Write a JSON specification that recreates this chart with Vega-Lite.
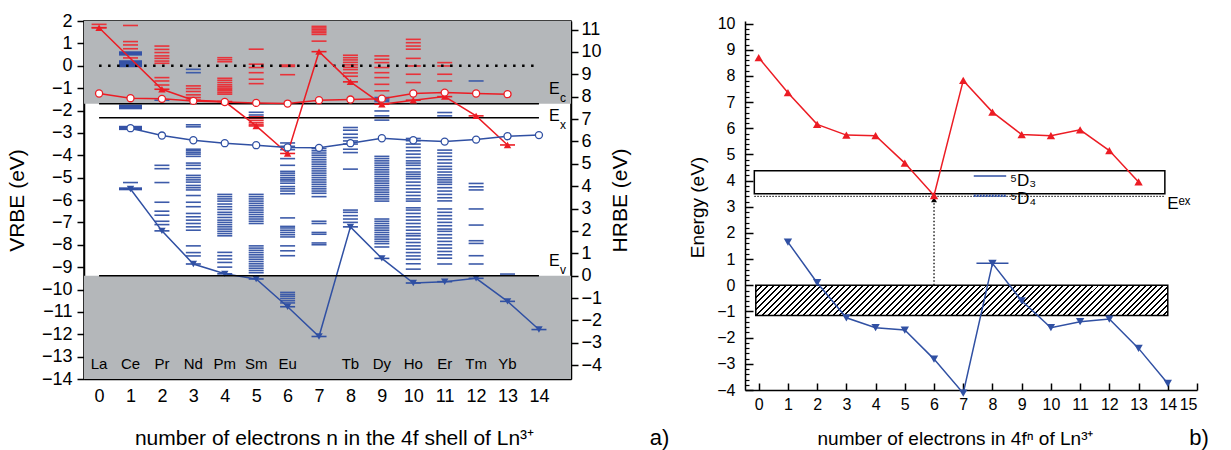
{
"$schema": "https://vega.github.io/schema/vega-lite/v6.json",
"padding": {"left": 5, "top": 11, "right": 0, "bottom": 0},
"spacing": 174,
"bounds": "flush",
"config": {"font": "Liberation Sans", "axis": {"grid": false, "labelOverlap": false, "domainColor": "#000", "tickColor": "#000", "labelColor": "#000", "titleColor": "#000", "titleFontWeight": "normal", "domainWidth": 1.5, "tickWidth": 1.5, "labelFont": "Liberation Sans", "titleFont": "Liberation Sans"}},
"datasets": {
"lv": [
{"n":0,"e":1.85,"c":"r"},{"n":0,"e":1.7,"c":"r"},
{"n":1,"e":1.8,"c":"r"},{"n":1,"e":1.08,"c":"r"},{"n":1,"e":0.93,"c":"r"},{"n":1,"e":0.76,"c":"r"},{"n":1,"e":0.35,"c":"r"},
{"n":1,"e":0.58,"c":"b","k":"d"},{"n":1,"e":0.52,"c":"b","k":"d"},{"n":1,"e":0.18,"c":"b","k":"d"},{"n":1,"e":0.12,"c":"b","k":"d"},{"n":1,"e":0.06,"c":"b","k":"d"},{"n":1,"e":0.0,"c":"b","k":"d"},{"n":1,"e":-1.8,"c":"b","k":"d"},{"n":1,"e":-1.88,"c":"b","k":"d"},{"n":1,"e":-2.75,"c":"b","k":"d"},{"n":1,"e":-2.81,"c":"b","k":"d"},
{"n":1,"e":-5.22,"c":"b"},{"n":1,"e":-5.5,"c":"b","k":"d"},
{"n":2,"e":0.88,"c":"r"},{"n":2,"e":0.73,"c":"r"},{"n":2,"e":0.59,"c":"r"},{"n":2,"e":0.44,"c":"r"},{"n":2,"e":0.33,"c":"r"},{"n":2,"e":0.21,"c":"r"},{"n":2,"e":0.11,"c":"r"},{"n":2,"e":-0.53,"c":"r"},{"n":2,"e":-0.68,"c":"r"},{"n":2,"e":-0.86,"c":"r"},
{"n":2,"e":-1.54,"c":"b"},{"n":2,"e":-4.45,"c":"b"},{"n":2,"e":-4.6,"c":"b"},{"n":2,"e":-5.22,"c":"b"},{"n":2,"e":-6.1,"c":"b"},{"n":2,"e":-6.5,"c":"b"},{"n":2,"e":-6.68,"c":"b"},{"n":2,"e":-6.95,"c":"b"},{"n":2,"e":-7.1,"c":"b"},
{"n":3,"e":-0.16,"c":"b"},{"n":3,"e":-0.31,"c":"b"},
{"n":3,"e":-0.9,"c":"r"},{"n":3,"e":-1.02,"c":"r"},{"n":3,"e":-1.15,"c":"r"},{"n":3,"e":-1.3,"c":"r"},{"n":3,"e":-1.42,"c":"r"},
{"n":3,"e":-2.64,"c":"b"},{"n":3,"e":-2.73,"c":"b"},{"n":3,"e":-3.73,"c":"b"},{"n":3,"e":-3.8,"c":"b"},{"n":3,"e":-3.88,"c":"b"},{"n":3,"e":-3.95,"c":"b"},{"n":3,"e":-4.05,"c":"b"},{"n":3,"e":-4.35,"c":"b"},{"n":3,"e":-4.45,"c":"b"},{"n":3,"e":-4.6,"c":"b"},{"n":3,"e":-4.9,"c":"b"},{"n":3,"e":-5.0,"c":"b"},{"n":3,"e":-5.1,"c":"b"},{"n":3,"e":-5.2,"c":"b"},{"n":3,"e":-5.35,"c":"b"},{"n":3,"e":-5.45,"c":"b"},{"n":3,"e":-5.55,"c":"b"},{"n":3,"e":-5.8,"c":"b"},{"n":3,"e":-6.1,"c":"b"},{"n":3,"e":-6.3,"c":"b"},{"n":3,"e":-6.6,"c":"b"},{"n":3,"e":-6.75,"c":"b"},{"n":3,"e":-6.9,"c":"b"},{"n":3,"e":-7.05,"c":"b"},{"n":3,"e":-7.2,"c":"b"},{"n":3,"e":-7.35,"c":"b"},{"n":3,"e":-8.05,"c":"b"},{"n":3,"e":-8.35,"c":"b"},{"n":3,"e":-8.5,"c":"b"},
{"n":4,"e":0.36,"c":"r"},{"n":4,"e":0.27,"c":"r"},{"n":4,"e":0.18,"c":"r"},{"n":4,"e":-0.56,"c":"r"},{"n":4,"e":-0.65,"c":"r"},{"n":4,"e":-0.75,"c":"r"},{"n":4,"e":-0.85,"c":"r"},{"n":4,"e":-0.93,"c":"r"},{"n":4,"e":-1.0,"c":"r"},{"n":4,"e":-1.06,"c":"r"},{"n":4,"e":-1.12,"c":"r"},{"n":4,"e":-1.2,"c":"r"},{"n":4,"e":-1.27,"c":"r"},
{"n":4,"e":-5.75,"c":"b"},{"n":4,"e":-5.85,"c":"b"},{"n":4,"e":-5.95,"c":"b"},{"n":4,"e":-6.05,"c":"b"},{"n":4,"e":-6.18,"c":"b"},{"n":4,"e":-6.3,"c":"b"},{"n":4,"e":-6.42,"c":"b"},{"n":4,"e":-6.55,"c":"b"},{"n":4,"e":-6.65,"c":"b"},{"n":4,"e":-6.78,"c":"b"},{"n":4,"e":-6.9,"c":"b"},{"n":4,"e":-7.0,"c":"b"},{"n":4,"e":-7.1,"c":"b"},{"n":4,"e":-7.2,"c":"b"},{"n":4,"e":-7.3,"c":"b"},{"n":4,"e":-7.4,"c":"b"},{"n":4,"e":-7.5,"c":"b"},{"n":4,"e":-7.6,"c":"b"},{"n":4,"e":-8.34,"c":"b"},{"n":4,"e":-8.49,"c":"b"},{"n":4,"e":-8.64,"c":"b"},{"n":4,"e":-8.79,"c":"b"},{"n":4,"e":-9.0,"c":"b"},
{"n":5,"e":0.74,"c":"r"},{"n":5,"e":0.07,"c":"r"},{"n":5,"e":-0.08,"c":"r"},{"n":5,"e":-0.31,"c":"r"},{"n":5,"e":-0.6,"c":"r"},{"n":5,"e":-0.8,"c":"r"},{"n":5,"e":-2.28,"c":"r"},{"n":5,"e":-2.36,"c":"r"},{"n":5,"e":-2.45,"c":"r"},{"n":5,"e":-2.55,"c":"r"},{"n":5,"e":-2.63,"c":"r"},
{"n":5,"e":-2.08,"c":"b"},{"n":5,"e":-2.2,"c":"b"},{"n":5,"e":-5.75,"c":"b"},{"n":5,"e":-5.85,"c":"b"},{"n":5,"e":-5.95,"c":"b"},{"n":5,"e":-6.05,"c":"b"},{"n":5,"e":-6.15,"c":"b"},{"n":5,"e":-6.25,"c":"b"},{"n":5,"e":-6.35,"c":"b"},{"n":5,"e":-6.45,"c":"b"},{"n":5,"e":-6.55,"c":"b"},{"n":5,"e":-6.65,"c":"b"},{"n":5,"e":-6.75,"c":"b"},{"n":5,"e":-6.85,"c":"b"},{"n":5,"e":-6.95,"c":"b"},{"n":5,"e":-7.05,"c":"b"},{"n":5,"e":-8.05,"c":"b"},{"n":5,"e":-8.15,"c":"b"},{"n":5,"e":-8.25,"c":"b"},{"n":5,"e":-8.35,"c":"b"},{"n":5,"e":-8.45,"c":"b"},{"n":5,"e":-8.55,"c":"b"},{"n":5,"e":-8.65,"c":"b"},{"n":5,"e":-8.75,"c":"b"},{"n":5,"e":-8.85,"c":"b"},{"n":5,"e":-8.95,"c":"b"},{"n":5,"e":-9.05,"c":"b"},{"n":5,"e":-9.15,"c":"b"},{"n":5,"e":-9.25,"c":"b"},
{"n":6,"e":0.03,"c":"r"},{"n":6,"e":-0.03,"c":"r"},{"n":6,"e":-0.4,"c":"r"},
{"n":6,"e":-3.45,"c":"b"},{"n":6,"e":-3.6,"c":"b"},{"n":6,"e":-3.75,"c":"b"},{"n":6,"e":-4.15,"c":"b"},{"n":6,"e":-4.45,"c":"b"},{"n":6,"e":-4.72,"c":"b"},{"n":6,"e":-4.8,"c":"b"},{"n":6,"e":-4.9,"c":"b"},{"n":6,"e":-5.0,"c":"b"},{"n":6,"e":-5.08,"c":"b"},{"n":6,"e":-5.15,"c":"b"},{"n":6,"e":-5.25,"c":"b"},{"n":6,"e":-5.4,"c":"b"},{"n":6,"e":-5.5,"c":"b"},{"n":6,"e":-5.6,"c":"b"},{"n":6,"e":-5.72,"c":"b"},{"n":6,"e":-6.8,"c":"b"},{"n":6,"e":-7.18,"c":"b"},{"n":6,"e":-7.25,"c":"b"},{"n":6,"e":-7.35,"c":"b"},{"n":6,"e":-7.45,"c":"b"},{"n":6,"e":-7.55,"c":"b"},{"n":6,"e":-7.65,"c":"b"},{"n":6,"e":-8.05,"c":"b"},{"n":6,"e":-8.27,"c":"b"},{"n":6,"e":-8.49,"c":"b"},{"n":6,"e":-10.13,"c":"b"},{"n":6,"e":-10.22,"c":"b"},{"n":6,"e":-10.3,"c":"b"},{"n":6,"e":-10.4,"c":"b"},{"n":6,"e":-10.5,"c":"b"},{"n":6,"e":-10.6,"c":"b"},
{"n":7,"e":1.76,"c":"r"},{"n":7,"e":1.69,"c":"r"},{"n":7,"e":1.62,"c":"r"},{"n":7,"e":1.55,"c":"r"},{"n":7,"e":1.48,"c":"r"},{"n":7,"e":1.4,"c":"r"},{"n":7,"e":1.1,"c":"r"},
{"n":7,"e":-3.7,"c":"b"},{"n":7,"e":-3.8,"c":"b"},{"n":7,"e":-3.9,"c":"b"},{"n":7,"e":-4.0,"c":"b"},{"n":7,"e":-4.1,"c":"b"},{"n":7,"e":-4.2,"c":"b"},{"n":7,"e":-4.3,"c":"b"},{"n":7,"e":-4.4,"c":"b"},{"n":7,"e":-4.5,"c":"b"},{"n":7,"e":-4.6,"c":"b"},{"n":7,"e":-4.7,"c":"b"},{"n":7,"e":-4.8,"c":"b"},{"n":7,"e":-4.9,"c":"b"},{"n":7,"e":-5.0,"c":"b"},{"n":7,"e":-5.1,"c":"b"},{"n":7,"e":-5.2,"c":"b"},{"n":7,"e":-5.3,"c":"b"},{"n":7,"e":-5.4,"c":"b"},{"n":7,"e":-5.5,"c":"b"},{"n":7,"e":-5.6,"c":"b"},{"n":7,"e":-5.7,"c":"b"},{"n":7,"e":-5.85,"c":"b"},{"n":7,"e":-6.95,"c":"b"},{"n":7,"e":-7.05,"c":"b"},{"n":7,"e":-7.45,"c":"b"},{"n":7,"e":-7.53,"c":"b"},{"n":7,"e":-7.92,"c":"b"},{"n":7,"e":-8.0,"c":"b"},
{"n":8,"e":0.47,"c":"r"},{"n":8,"e":0.36,"c":"r"},{"n":8,"e":0.26,"c":"r"},{"n":8,"e":0.15,"c":"r"},{"n":8,"e":0.04,"c":"r"},{"n":8,"e":-0.07,"c":"r"},{"n":8,"e":-0.17,"c":"r"},{"n":8,"e":-0.32,"c":"r"},{"n":8,"e":-0.47,"c":"r"},
{"n":8,"e":-2.76,"c":"b"},{"n":8,"e":-2.88,"c":"b"},{"n":8,"e":-3.06,"c":"b"},{"n":8,"e":-3.21,"c":"b"},{"n":8,"e":-3.36,"c":"b"},{"n":8,"e":-3.5,"c":"b"},{"n":8,"e":-3.73,"c":"b"},{"n":8,"e":-3.88,"c":"b"},{"n":8,"e":-4.62,"c":"b"},{"n":8,"e":-6.45,"c":"b"},{"n":8,"e":-6.55,"c":"b"},{"n":8,"e":-6.7,"c":"b"},{"n":8,"e":-6.85,"c":"b"},{"n":8,"e":-7.0,"c":"b"},
{"n":9,"e":0.44,"c":"r"},{"n":9,"e":0.29,"c":"r"},{"n":9,"e":0.14,"c":"r"},{"n":9,"e":-0.08,"c":"r"},{"n":9,"e":-0.31,"c":"r"},{"n":9,"e":-0.53,"c":"r"},{"n":9,"e":-0.83,"c":"r"},{"n":9,"e":-1.12,"c":"r"},
{"n":9,"e":-1.42,"c":"b"},{"n":9,"e":-1.48,"c":"b"},{"n":9,"e":-1.54,"c":"b"},{"n":9,"e":-1.6,"c":"b"},{"n":9,"e":-2.02,"c":"b"},{"n":9,"e":-2.24,"c":"b"},{"n":9,"e":-2.43,"c":"b"},{"n":9,"e":-4.05,"c":"b"},{"n":9,"e":-4.15,"c":"b"},{"n":9,"e":-4.25,"c":"b"},{"n":9,"e":-4.35,"c":"b"},{"n":9,"e":-4.45,"c":"b"},{"n":9,"e":-4.55,"c":"b"},{"n":9,"e":-4.65,"c":"b"},{"n":9,"e":-4.75,"c":"b"},{"n":9,"e":-4.85,"c":"b"},{"n":9,"e":-4.95,"c":"b"},{"n":9,"e":-5.05,"c":"b"},{"n":9,"e":-5.15,"c":"b"},{"n":9,"e":-5.25,"c":"b"},{"n":9,"e":-5.35,"c":"b"},{"n":9,"e":-5.45,"c":"b"},{"n":9,"e":-5.55,"c":"b"},{"n":9,"e":-5.65,"c":"b"},{"n":9,"e":-5.75,"c":"b"},{"n":9,"e":-5.85,"c":"b"},{"n":9,"e":-5.95,"c":"b"},{"n":9,"e":-6.05,"c":"b"},{"n":9,"e":-6.85,"c":"b"},{"n":9,"e":-6.95,"c":"b"},{"n":9,"e":-7.05,"c":"b"},{"n":9,"e":-7.15,"c":"b"},{"n":9,"e":-7.25,"c":"b"},{"n":9,"e":-7.35,"c":"b"},{"n":9,"e":-7.45,"c":"b"},{"n":9,"e":-7.55,"c":"b"},{"n":9,"e":-7.65,"c":"b"},{"n":9,"e":-7.75,"c":"b"},{"n":9,"e":-7.85,"c":"b"},{"n":9,"e":-7.95,"c":"b"},{"n":9,"e":-8.1,"c":"b"},
{"n":10,"e":1.18,"c":"r"},{"n":10,"e":1.03,"c":"r"},{"n":10,"e":0.88,"c":"r"},{"n":10,"e":0.74,"c":"r"},{"n":10,"e":0.33,"c":"r"},{"n":10,"e":-0.01,"c":"r"},{"n":10,"e":-0.38,"c":"r"},{"n":10,"e":-0.75,"c":"r"},
{"n":10,"e":-3.25,"c":"b"},{"n":10,"e":-3.35,"c":"b"},{"n":10,"e":-3.5,"c":"b"},{"n":10,"e":-3.65,"c":"b"},{"n":10,"e":-3.8,"c":"b"},{"n":10,"e":-3.95,"c":"b"},{"n":10,"e":-4.1,"c":"b"},{"n":10,"e":-4.25,"c":"b"},{"n":10,"e":-4.35,"c":"b"},{"n":10,"e":-4.45,"c":"b"},{"n":10,"e":-4.6,"c":"b"},{"n":10,"e":-4.75,"c":"b"},{"n":10,"e":-4.85,"c":"b"},{"n":10,"e":-4.95,"c":"b"},{"n":10,"e":-5.05,"c":"b"},{"n":10,"e":-5.2,"c":"b"},{"n":10,"e":-5.35,"c":"b"},{"n":10,"e":-5.5,"c":"b"},{"n":10,"e":-5.65,"c":"b"},{"n":10,"e":-5.8,"c":"b"},{"n":10,"e":-5.95,"c":"b"},{"n":10,"e":-6.05,"c":"b"},{"n":10,"e":-6.35,"c":"b"},{"n":10,"e":-6.45,"c":"b"},{"n":10,"e":-6.6,"c":"b"},{"n":10,"e":-6.75,"c":"b"},{"n":10,"e":-6.9,"c":"b"},{"n":10,"e":-7.05,"c":"b"},{"n":10,"e":-7.2,"c":"b"},{"n":10,"e":-7.35,"c":"b"},{"n":10,"e":-7.5,"c":"b"},{"n":10,"e":-7.6,"c":"b"},{"n":10,"e":-7.75,"c":"b"},{"n":10,"e":-7.9,"c":"b"},{"n":10,"e":-8.05,"c":"b"},{"n":10,"e":-8.2,"c":"b"},{"n":10,"e":-8.35,"c":"b"},{"n":10,"e":-8.5,"c":"b"},{"n":10,"e":-8.65,"c":"b"},{"n":10,"e":-8.85,"c":"b"},{"n":10,"e":-9.09,"c":"b"},
{"n":11,"e":0.14,"c":"r"},{"n":11,"e":-0.01,"c":"r"},{"n":11,"e":-0.38,"c":"r"},{"n":11,"e":-0.68,"c":"r"},
{"n":11,"e":-2.09,"c":"b"},{"n":11,"e":-2.24,"c":"b"},{"n":11,"e":-3.77,"c":"b"},{"n":11,"e":-3.9,"c":"b"},{"n":11,"e":-4.05,"c":"b"},{"n":11,"e":-4.2,"c":"b"},{"n":11,"e":-4.35,"c":"b"},{"n":11,"e":-4.5,"c":"b"},{"n":11,"e":-4.62,"c":"b"},{"n":11,"e":-4.75,"c":"b"},{"n":11,"e":-4.88,"c":"b"},{"n":11,"e":-5.0,"c":"b"},{"n":11,"e":-5.1,"c":"b"},{"n":11,"e":-5.2,"c":"b"},{"n":11,"e":-5.3,"c":"b"},{"n":11,"e":-5.45,"c":"b"},{"n":11,"e":-5.6,"c":"b"},{"n":11,"e":-5.75,"c":"b"},{"n":11,"e":-5.9,"c":"b"},{"n":11,"e":-6.04,"c":"b"},{"n":11,"e":-6.4,"c":"b"},{"n":11,"e":-6.55,"c":"b"},{"n":11,"e":-6.7,"c":"b"},{"n":11,"e":-6.85,"c":"b"},{"n":11,"e":-7.0,"c":"b"},{"n":11,"e":-7.15,"c":"b"},{"n":11,"e":-7.3,"c":"b"},{"n":11,"e":-7.4,"c":"b"},{"n":11,"e":-7.55,"c":"b"},{"n":11,"e":-7.7,"c":"b"},{"n":11,"e":-7.85,"c":"b"},{"n":11,"e":-8.0,"c":"b"},{"n":11,"e":-8.15,"c":"b"},{"n":11,"e":-8.3,"c":"b"},{"n":11,"e":-8.45,"c":"b"},{"n":11,"e":-8.6,"c":"b"},{"n":11,"e":-8.86,"c":"b"},
{"n":12,"e":-0.68,"c":"b"},{"n":12,"e":-5.26,"c":"b"},{"n":12,"e":-5.41,"c":"b"},{"n":12,"e":-5.55,"c":"b"},{"n":12,"e":-6.4,"c":"b"},{"n":12,"e":-7.12,"c":"b"},{"n":12,"e":-7.82,"c":"b"},{"n":12,"e":-7.94,"c":"b"},{"n":12,"e":-8.49,"c":"b"},{"n":12,"e":-8.86,"c":"b"},
{"n":13,"e":-9.31,"c":"b"}
],
"ser": [
{"s":"rt","n":0,"e":1.7},{"s":"rt","n":2,"e":-1.05},{"s":"rt","n":3,"e":-1.54},{"s":"rt","n":4,"e":-1.6},{"s":"rt","n":5,"e":-2.69},{"s":"rt","n":6,"e":-3.92},{"s":"rt","n":7,"e":0.63},{"s":"rt","n":8,"e":-0.72},{"s":"rt","n":9,"e":-1.72},{"s":"rt","n":10,"e":-1.54},{"s":"rt","n":11,"e":-1.38},{"s":"rt","n":12,"e":-2.24},{"s":"rt","n":13,"e":-3.54},
{"s":"rc","n":0,"e":-1.24},{"s":"rc","n":1,"e":-1.45},{"s":"rc","n":2,"e":-1.48},{"s":"rc","n":3,"e":-1.57},{"s":"rc","n":4,"e":-1.62},{"s":"rc","n":5,"e":-1.66},{"s":"rc","n":6,"e":-1.69},{"s":"rc","n":7,"e":-1.54},{"s":"rc","n":8,"e":-1.51},{"s":"rc","n":9,"e":-1.47},{"s":"rc","n":10,"e":-1.24},{"s":"rc","n":11,"e":-1.2},{"s":"rc","n":12,"e":-1.24},{"s":"rc","n":13,"e":-1.27},
{"s":"bc","n":1,"e":-2.79},{"s":"bc","n":2,"e":-3.12},{"s":"bc","n":3,"e":-3.33},{"s":"bc","n":4,"e":-3.46},{"s":"bc","n":5,"e":-3.55},{"s":"bc","n":6,"e":-3.65},{"s":"bc","n":7,"e":-3.67},{"s":"bc","n":8,"e":-3.46},{"s":"bc","n":9,"e":-3.24},{"s":"bc","n":10,"e":-3.33},{"s":"bc","n":11,"e":-3.39},{"s":"bc","n":12,"e":-3.3},{"s":"bc","n":13,"e":-3.15},{"s":"bc","n":14,"e":-3.1},
{"s":"bt","n":1,"e":-5.51},{"s":"bt","n":2,"e":-7.38},{"s":"bt","n":3,"e":-8.86},{"s":"bt","n":4,"e":-9.3},{"s":"bt","n":5,"e":-9.53},{"s":"bt","n":6,"e":-10.77},{"s":"bt","n":7,"e":-12.1},{"s":"bt","n":8,"e":-7.2},{"s":"bt","n":9,"e":-8.61},{"s":"bt","n":10,"e":-9.71},{"s":"bt","n":11,"e":-9.65},{"s":"bt","n":12,"e":-9.5},{"s":"bt","n":13,"e":-10.53},{"s":"bt","n":14,"e":-11.79}
],
"ser2": [
{"s":"rt","n":0,"e":8.7},{"s":"rt","n":1,"e":7.36},{"s":"rt","n":2,"e":6.15},{"s":"rt","n":3,"e":5.74},{"s":"rt","n":4,"e":5.72},{"s":"rt","n":5,"e":4.67},{"s":"rt","n":6,"e":3.43},{"s":"rt","n":7,"e":7.83},{"s":"rt","n":8,"e":6.62},{"s":"rt","n":9,"e":5.76},{"s":"rt","n":10,"e":5.72},{"s":"rt","n":11,"e":5.94},{"s":"rt","n":12,"e":5.15},{"s":"rt","n":13,"e":3.95},
{"s":"bt","n":1,"e":1.65},{"s":"bt","n":2,"e":0.1},{"s":"bt","n":3,"e":-1.24},{"s":"bt","n":4,"e":-1.62},{"s":"bt","n":5,"e":-1.71},{"s":"bt","n":6,"e":-2.82},{"s":"bt","n":7,"e":-4.12},{"s":"bt","n":8,"e":0.84},{"s":"bt","n":9,"e":-0.59},{"s":"bt","n":10,"e":-1.62},{"s":"bt","n":11,"e":-1.39},{"s":"bt","n":12,"e":-1.29},{"s":"bt","n":13,"e":-2.41},{"s":"bt","n":14,"e":-3.75}
]
},
"hconcat": [
{
"width": 487, "height": 358,
"view": {"stroke": "#000", "strokeWidth": 1.5},
"resolve": {"scale": {"y": "independent"}},
"layer": [
{"layer": [
{"data": {"values": [{"y": 2, "y2": -1.7}, {"y": -9.38, "y2": -14}]},
 "mark": {"type": "rect", "color": "#b4b7ba"},
 "encoding": {
  "y": {"field": "y", "type": "quantitative", "scale": {"domain": [-14, 2], "nice": false, "zero": false},
   "axis": {"title": "VRBE (eV)", "values": [-14,-13,-12,-11,-10,-9,-8,-7,-6,-5,-4,-3,-2,-1,0,1,2], "format": "d", "tickCount": 100, "labelOverlap": false, "tickSize": 7, "labelPadding": 5, "labelFontSize": 18, "titleFontSize": 21, "titleX": -67, "titleY": 179, "titleAngle": -90, "titleAlign": "center", "titleBaseline": "middle"}},
  "y2": {"field": "y2"}}},
{"data": {"name": "lv"}, "transform": [{"filter": "datum.c == 'r'"}],
 "mark": {"type": "tick", "orient": "horizontal", "size": 15, "thickness": 1.6, "color": "#e8333a", "opacity": 1},
 "encoding": {
  "x": {"field": "n", "type": "quantitative", "scale": {"domain": [-0.48, 15.02], "nice": false, "zero": false},
   "axis": {"title": "number of electrons n in the 4f shell of Ln³⁺", "values": [0,1,2,3,4,5,6,7,8,9,10,11,12,13,14], "format": "d", "tickCount": 100, "labelOverlap": false, "tickSize": -6, "labelPadding": 14, "labelFontSize": 18, "titleFontSize": 21, "titleX": 250, "titleY": 59, "titleBaseline": "middle"}},
  "y": {"field": "e", "type": "quantitative"}}},
{"data": {"name": "lv"}, "transform": [{"filter": "datum.c == 'b' && datum.k != 'd'"}],
 "mark": {"type": "tick", "orient": "horizontal", "size": 15, "thickness": 1.6, "color": "#3d5ba9", "opacity": 1},
 "encoding": {"x": {"field": "n", "type": "quantitative"}, "y": {"field": "e", "type": "quantitative"}}},
{"data": {"name": "lv"}, "transform": [{"filter": "datum.k == 'd'"}],
 "mark": {"type": "tick", "orient": "horizontal", "size": 23, "thickness": 3, "color": "#3552a6", "opacity": 1},
 "encoding": {"x": {"field": "n", "type": "quantitative"}, "y": {"field": "e", "type": "quantitative"}}},
{"data": {"values": [{"n": 0, "n2": 14, "e": -1.7}, {"n": 0, "n2": 14, "e": -2.32}]},
 "mark": {"type": "rule", "color": "#000", "strokeWidth": 1.5},
 "encoding": {"x": {"field": "n", "type": "quantitative"}, "x2": {"field": "n2"}, "y": {"field": "e", "type": "quantitative"}}},
{"data": {"values": [{"n": 0, "n2": 14, "e": 0}]},
 "mark": {"type": "rule", "color": "#000", "strokeWidth": 2.5, "strokeDash": [2.5, 6.5]},
 "encoding": {"x": {"field": "n", "type": "quantitative"}, "x2": {"field": "n2"}, "y": {"field": "e", "type": "quantitative"}}},
{"data": {"name": "ser"}, "transform": [{"filter": "datum.s == 'rt' || datum.s == 'bt'"}],
 "mark": {"type": "tick", "orient": "horizontal", "size": 15, "thickness": 1.6, "opacity": 1},
 "encoding": {"x": {"field": "n", "type": "quantitative"}, "y": {"field": "e", "type": "quantitative"},
  "color": {"field": "s", "type": "nominal", "scale": {"domain": ["rt", "rc", "bc", "bt"], "range": ["#ec1c24", "#ec1c24", "#3050a3", "#3050a3"]}, "legend": null}}},
{"data": {"name": "ser"},
 "mark": {"type": "line", "strokeWidth": 1.5},
 "encoding": {"x": {"field": "n", "type": "quantitative"}, "y": {"field": "e", "type": "quantitative"},
  "color": {"field": "s", "type": "nominal", "legend": null}}},
{"data": {"name": "ser"}, "transform": [{"filter": "datum.s == 'rt' || datum.s == 'bt'"}],
 "mark": {"type": "point", "filled": true, "size": 55, "opacity": 1},
 "encoding": {"x": {"field": "n", "type": "quantitative"}, "y": {"field": "e", "type": "quantitative"},
  "color": {"field": "s", "type": "nominal", "legend": null},
  "shape": {"field": "s", "type": "nominal", "scale": {"domain": ["rt", "bt"], "range": ["triangle-up", "triangle-down"]}, "legend": null}}},
{"data": {"name": "ser"}, "transform": [{"filter": "datum.s == 'rc' || datum.s == 'bc'"}],
 "mark": {"type": "point", "filled": false, "fill": "#fff", "fillOpacity": 1, "size": 50, "strokeWidth": 1.3, "opacity": 1},
 "encoding": {"x": {"field": "n", "type": "quantitative"}, "y": {"field": "e", "type": "quantitative"},
  "color": {"field": "s", "type": "nominal", "legend": null}}},
{"data": {"values": [{"n":0,"e":-13.33,"el":"La"},{"n":1,"e":-13.33,"el":"Ce"},{"n":2,"e":-13.33,"el":"Pr"},{"n":3,"e":-13.33,"el":"Nd"},{"n":4,"e":-13.33,"el":"Pm"},{"n":5,"e":-13.33,"el":"Sm"},{"n":6,"e":-13.33,"el":"Eu"},{"n":8,"e":-13.33,"el":"Tb"},{"n":9,"e":-13.33,"el":"Dy"},{"n":10,"e":-13.33,"el":"Ho"},{"n":11,"e":-13.33,"el":"Er"},{"n":12,"e":-13.33,"el":"Tm"},{"n":13,"e":-13.33,"el":"Yb"}]},
 "mark": {"type": "text", "fontSize": 15, "color": "#000", "align": "center", "baseline": "middle"},
 "encoding": {"x": {"field": "n", "type": "quantitative"}, "y": {"field": "e", "type": "quantitative"}, "text": {"field": "el"}}},
{"data": {"values": [{"n": 14.32, "e": -1.04, "sub": "c"}, {"n": 14.32, "e": -2.26, "sub": "x"}, {"n": 14.32, "e": -8.71, "sub": "v"}]},
 "layer": [
  {"mark": {"type": "text", "text": "E", "fontSize": 16, "color": "#000", "align": "left", "baseline": "middle"},
   "encoding": {"x": {"field": "n", "type": "quantitative"}, "y": {"field": "e", "type": "quantitative"}}},
  {"mark": {"type": "text", "fontSize": 12, "color": "#000", "align": "left", "baseline": "middle", "dx": 11, "dy": 9},
   "encoding": {"x": {"field": "n", "type": "quantitative"}, "y": {"field": "e", "type": "quantitative"}, "text": {"field": "sub"}}}
 ]},
{"data": {"values": [{"n": 17.53, "e": -16.62, "t": "a)"}]},
 "mark": {"type": "text", "fontSize": 22, "color": "#000", "align": "left", "baseline": "middle"},
 "encoding": {"x": {"field": "n", "type": "quantitative"}, "y": {"field": "e", "type": "quantitative"}, "text": {"field": "t"}}}
]},
{"data": {"values": [{"n": 0, "n2": 14, "h": 0}]},
 "mark": {"type": "rule", "color": "#000", "strokeWidth": 1.5},
 "encoding": {"x": {"field": "n", "type": "quantitative"}, "x2": {"field": "n2"},
  "y": {"field": "h", "type": "quantitative", "scale": {"domain": [-4.62, 11.38], "nice": false, "zero": false},
   "axis": {"title": "HRBE (eV)", "orient": "right", "values": [-4,-3,-2,-1,0,1,2,3,4,5,6,7,8,9,10,11], "format": "d", "labelOverlap": false, "tickSize": 7, "labelPadding": 3, "labelFontSize": 18, "titleFontSize": 21, "titleX": 49, "titleY": 179, "titleAngle": -90, "titleAlign": "center", "titleBaseline": "middle"}}}}
]
},
{
"width": 452, "height": 369,
"view": {"stroke": null},
"resolve": {"scale": {"y": "independent"}},
"layer": [
{"layer": [
{"data": {"values": [{"x": -0.1, "x2": 14, "y": 0, "y2": -1.15}]},
 "mark": {"type": "rect", "stroke": "#000", "strokeWidth": 1.5,
  "fill": {"gradient": "linear", "x1": 0, "y1": 0, "x2": 1.0674, "y2": 0.078, "stops": [
{"offset":0,"color":"#000"},{"offset":0.0045,"color":"#000"},{"offset":0.0045,"color":"#fff"},{"offset":0.01333,"color":"#fff"},
{"offset":0.01333,"color":"#000"},{"offset":0.01783,"color":"#000"},{"offset":0.01783,"color":"#fff"},{"offset":0.02667,"color":"#fff"},
{"offset":0.02667,"color":"#000"},{"offset":0.03117,"color":"#000"},{"offset":0.03117,"color":"#fff"},{"offset":0.04,"color":"#fff"},
{"offset":0.04,"color":"#000"},{"offset":0.0445,"color":"#000"},{"offset":0.0445,"color":"#fff"},{"offset":0.05333,"color":"#fff"},
{"offset":0.05333,"color":"#000"},{"offset":0.05783,"color":"#000"},{"offset":0.05783,"color":"#fff"},{"offset":0.06667,"color":"#fff"},
{"offset":0.06667,"color":"#000"},{"offset":0.07117,"color":"#000"},{"offset":0.07117,"color":"#fff"},{"offset":0.08,"color":"#fff"},
{"offset":0.08,"color":"#000"},{"offset":0.0845,"color":"#000"},{"offset":0.0845,"color":"#fff"},{"offset":0.09333,"color":"#fff"},
{"offset":0.09333,"color":"#000"},{"offset":0.09783,"color":"#000"},{"offset":0.09783,"color":"#fff"},{"offset":0.10667,"color":"#fff"},
{"offset":0.10667,"color":"#000"},{"offset":0.11117,"color":"#000"},{"offset":0.11117,"color":"#fff"},{"offset":0.12,"color":"#fff"},
{"offset":0.12,"color":"#000"},{"offset":0.1245,"color":"#000"},{"offset":0.1245,"color":"#fff"},{"offset":0.13333,"color":"#fff"},
{"offset":0.13333,"color":"#000"},{"offset":0.13783,"color":"#000"},{"offset":0.13783,"color":"#fff"},{"offset":0.14667,"color":"#fff"},
{"offset":0.14667,"color":"#000"},{"offset":0.15117,"color":"#000"},{"offset":0.15117,"color":"#fff"},{"offset":0.16,"color":"#fff"},
{"offset":0.16,"color":"#000"},{"offset":0.1645,"color":"#000"},{"offset":0.1645,"color":"#fff"},{"offset":0.17333,"color":"#fff"},
{"offset":0.17333,"color":"#000"},{"offset":0.17783,"color":"#000"},{"offset":0.17783,"color":"#fff"},{"offset":0.18667,"color":"#fff"},
{"offset":0.18667,"color":"#000"},{"offset":0.19117,"color":"#000"},{"offset":0.19117,"color":"#fff"},{"offset":0.2,"color":"#fff"},
{"offset":0.2,"color":"#000"},{"offset":0.2045,"color":"#000"},{"offset":0.2045,"color":"#fff"},{"offset":0.21333,"color":"#fff"},
{"offset":0.21333,"color":"#000"},{"offset":0.21783,"color":"#000"},{"offset":0.21783,"color":"#fff"},{"offset":0.22667,"color":"#fff"},
{"offset":0.22667,"color":"#000"},{"offset":0.23117,"color":"#000"},{"offset":0.23117,"color":"#fff"},{"offset":0.24,"color":"#fff"},
{"offset":0.24,"color":"#000"},{"offset":0.2445,"color":"#000"},{"offset":0.2445,"color":"#fff"},{"offset":0.25333,"color":"#fff"},
{"offset":0.25333,"color":"#000"},{"offset":0.25783,"color":"#000"},{"offset":0.25783,"color":"#fff"},{"offset":0.26667,"color":"#fff"},
{"offset":0.26667,"color":"#000"},{"offset":0.27117,"color":"#000"},{"offset":0.27117,"color":"#fff"},{"offset":0.28,"color":"#fff"},
{"offset":0.28,"color":"#000"},{"offset":0.2845,"color":"#000"},{"offset":0.2845,"color":"#fff"},{"offset":0.29333,"color":"#fff"},
{"offset":0.29333,"color":"#000"},{"offset":0.29783,"color":"#000"},{"offset":0.29783,"color":"#fff"},{"offset":0.30667,"color":"#fff"},
{"offset":0.30667,"color":"#000"},{"offset":0.31117,"color":"#000"},{"offset":0.31117,"color":"#fff"},{"offset":0.32,"color":"#fff"},
{"offset":0.32,"color":"#000"},{"offset":0.3245,"color":"#000"},{"offset":0.3245,"color":"#fff"},{"offset":0.33333,"color":"#fff"},
{"offset":0.33333,"color":"#000"},{"offset":0.33783,"color":"#000"},{"offset":0.33783,"color":"#fff"},{"offset":0.34667,"color":"#fff"},
{"offset":0.34667,"color":"#000"},{"offset":0.35117,"color":"#000"},{"offset":0.35117,"color":"#fff"},{"offset":0.36,"color":"#fff"},
{"offset":0.36,"color":"#000"},{"offset":0.3645,"color":"#000"},{"offset":0.3645,"color":"#fff"},{"offset":0.37333,"color":"#fff"},
{"offset":0.37333,"color":"#000"},{"offset":0.37783,"color":"#000"},{"offset":0.37783,"color":"#fff"},{"offset":0.38667,"color":"#fff"},
{"offset":0.38667,"color":"#000"},{"offset":0.39117,"color":"#000"},{"offset":0.39117,"color":"#fff"},{"offset":0.4,"color":"#fff"},
{"offset":0.4,"color":"#000"},{"offset":0.4045,"color":"#000"},{"offset":0.4045,"color":"#fff"},{"offset":0.41333,"color":"#fff"},
{"offset":0.41333,"color":"#000"},{"offset":0.41783,"color":"#000"},{"offset":0.41783,"color":"#fff"},{"offset":0.42667,"color":"#fff"},
{"offset":0.42667,"color":"#000"},{"offset":0.43117,"color":"#000"},{"offset":0.43117,"color":"#fff"},{"offset":0.44,"color":"#fff"},
{"offset":0.44,"color":"#000"},{"offset":0.4445,"color":"#000"},{"offset":0.4445,"color":"#fff"},{"offset":0.45333,"color":"#fff"},
{"offset":0.45333,"color":"#000"},{"offset":0.45783,"color":"#000"},{"offset":0.45783,"color":"#fff"},{"offset":0.46667,"color":"#fff"},
{"offset":0.46667,"color":"#000"},{"offset":0.47117,"color":"#000"},{"offset":0.47117,"color":"#fff"},{"offset":0.48,"color":"#fff"},
{"offset":0.48,"color":"#000"},{"offset":0.4845,"color":"#000"},{"offset":0.4845,"color":"#fff"},{"offset":0.49333,"color":"#fff"},
{"offset":0.49333,"color":"#000"},{"offset":0.49783,"color":"#000"},{"offset":0.49783,"color":"#fff"},{"offset":0.50667,"color":"#fff"},
{"offset":0.50667,"color":"#000"},{"offset":0.51117,"color":"#000"},{"offset":0.51117,"color":"#fff"},{"offset":0.52,"color":"#fff"},
{"offset":0.52,"color":"#000"},{"offset":0.5245,"color":"#000"},{"offset":0.5245,"color":"#fff"},{"offset":0.53333,"color":"#fff"},
{"offset":0.53333,"color":"#000"},{"offset":0.53783,"color":"#000"},{"offset":0.53783,"color":"#fff"},{"offset":0.54667,"color":"#fff"},
{"offset":0.54667,"color":"#000"},{"offset":0.55117,"color":"#000"},{"offset":0.55117,"color":"#fff"},{"offset":0.56,"color":"#fff"},
{"offset":0.56,"color":"#000"},{"offset":0.5645,"color":"#000"},{"offset":0.5645,"color":"#fff"},{"offset":0.57333,"color":"#fff"},
{"offset":0.57333,"color":"#000"},{"offset":0.57783,"color":"#000"},{"offset":0.57783,"color":"#fff"},{"offset":0.58667,"color":"#fff"},
{"offset":0.58667,"color":"#000"},{"offset":0.59117,"color":"#000"},{"offset":0.59117,"color":"#fff"},{"offset":0.6,"color":"#fff"},
{"offset":0.6,"color":"#000"},{"offset":0.6045,"color":"#000"},{"offset":0.6045,"color":"#fff"},{"offset":0.61333,"color":"#fff"},
{"offset":0.61333,"color":"#000"},{"offset":0.61783,"color":"#000"},{"offset":0.61783,"color":"#fff"},{"offset":0.62667,"color":"#fff"},
{"offset":0.62667,"color":"#000"},{"offset":0.63117,"color":"#000"},{"offset":0.63117,"color":"#fff"},{"offset":0.64,"color":"#fff"},
{"offset":0.64,"color":"#000"},{"offset":0.6445,"color":"#000"},{"offset":0.6445,"color":"#fff"},{"offset":0.65333,"color":"#fff"},
{"offset":0.65333,"color":"#000"},{"offset":0.65783,"color":"#000"},{"offset":0.65783,"color":"#fff"},{"offset":0.66667,"color":"#fff"},
{"offset":0.66667,"color":"#000"},{"offset":0.67117,"color":"#000"},{"offset":0.67117,"color":"#fff"},{"offset":0.68,"color":"#fff"},
{"offset":0.68,"color":"#000"},{"offset":0.6845,"color":"#000"},{"offset":0.6845,"color":"#fff"},{"offset":0.69333,"color":"#fff"},
{"offset":0.69333,"color":"#000"},{"offset":0.69783,"color":"#000"},{"offset":0.69783,"color":"#fff"},{"offset":0.70667,"color":"#fff"},
{"offset":0.70667,"color":"#000"},{"offset":0.71117,"color":"#000"},{"offset":0.71117,"color":"#fff"},{"offset":0.72,"color":"#fff"},
{"offset":0.72,"color":"#000"},{"offset":0.7245,"color":"#000"},{"offset":0.7245,"color":"#fff"},{"offset":0.73333,"color":"#fff"},
{"offset":0.73333,"color":"#000"},{"offset":0.73783,"color":"#000"},{"offset":0.73783,"color":"#fff"},{"offset":0.74667,"color":"#fff"},
{"offset":0.74667,"color":"#000"},{"offset":0.75117,"color":"#000"},{"offset":0.75117,"color":"#fff"},{"offset":0.76,"color":"#fff"},
{"offset":0.76,"color":"#000"},{"offset":0.7645,"color":"#000"},{"offset":0.7645,"color":"#fff"},{"offset":0.77333,"color":"#fff"},
{"offset":0.77333,"color":"#000"},{"offset":0.77783,"color":"#000"},{"offset":0.77783,"color":"#fff"},{"offset":0.78667,"color":"#fff"},
{"offset":0.78667,"color":"#000"},{"offset":0.79117,"color":"#000"},{"offset":0.79117,"color":"#fff"},{"offset":0.8,"color":"#fff"},
{"offset":0.8,"color":"#000"},{"offset":0.8045,"color":"#000"},{"offset":0.8045,"color":"#fff"},{"offset":0.81333,"color":"#fff"},
{"offset":0.81333,"color":"#000"},{"offset":0.81783,"color":"#000"},{"offset":0.81783,"color":"#fff"},{"offset":0.82667,"color":"#fff"},
{"offset":0.82667,"color":"#000"},{"offset":0.83117,"color":"#000"},{"offset":0.83117,"color":"#fff"},{"offset":0.84,"color":"#fff"},
{"offset":0.84,"color":"#000"},{"offset":0.8445,"color":"#000"},{"offset":0.8445,"color":"#fff"},{"offset":0.85333,"color":"#fff"},
{"offset":0.85333,"color":"#000"},{"offset":0.85783,"color":"#000"},{"offset":0.85783,"color":"#fff"},{"offset":0.86667,"color":"#fff"},
{"offset":0.86667,"color":"#000"},{"offset":0.87117,"color":"#000"},{"offset":0.87117,"color":"#fff"},{"offset":0.88,"color":"#fff"},
{"offset":0.88,"color":"#000"},{"offset":0.8845,"color":"#000"},{"offset":0.8845,"color":"#fff"},{"offset":0.89333,"color":"#fff"},
{"offset":0.89333,"color":"#000"},{"offset":0.89783,"color":"#000"},{"offset":0.89783,"color":"#fff"},{"offset":0.90667,"color":"#fff"},
{"offset":0.90667,"color":"#000"},{"offset":0.91117,"color":"#000"},{"offset":0.91117,"color":"#fff"},{"offset":0.92,"color":"#fff"},
{"offset":0.92,"color":"#000"},{"offset":0.9245,"color":"#000"},{"offset":0.9245,"color":"#fff"},{"offset":0.93333,"color":"#fff"},
{"offset":0.93333,"color":"#000"},{"offset":0.93783,"color":"#000"},{"offset":0.93783,"color":"#fff"},{"offset":0.94667,"color":"#fff"},
{"offset":0.94667,"color":"#000"},{"offset":0.95117,"color":"#000"},{"offset":0.95117,"color":"#fff"},{"offset":0.96,"color":"#fff"},
{"offset":0.96,"color":"#000"},{"offset":0.9645,"color":"#000"},{"offset":0.9645,"color":"#fff"},{"offset":0.97333,"color":"#fff"},
{"offset":0.97333,"color":"#000"},{"offset":0.97783,"color":"#000"},{"offset":0.97783,"color":"#fff"},{"offset":0.98667,"color":"#fff"},
{"offset":0.98667,"color":"#000"},{"offset":0.99117,"color":"#000"},{"offset":0.99117,"color":"#fff"},{"offset":1,"color":"#fff"}
  ]}},
 "encoding": {
  "x": {"field": "x", "type": "quantitative", "scale": {"domain": [-0.469, 15], "nice": false, "zero": false},
   "axis": {"title": "number of electrons in 4fⁿ of Ln³⁺", "values": [0,1,2,3,4,5,6,7,8,9,10,11,12,13,14,15], "format": "d", "tickCount": 100, "labelOverlap": false, "tickSize": -7, "labelPadding": 13, "labelFontSize": 16, "titleFontSize": 19, "titleX": 210, "titleY": 48, "titleBaseline": "middle"}},
  "x2": {"field": "x2"},
  "y": {"field": "y", "type": "quantitative", "scale": {"domain": [-4, 10.1], "nice": false, "zero": false},
   "axis": {"title": "Energy (eV)", "values": [-4,-3,-2,-1,0,1,2,3,4,5,6,7,8,9,10], "format": "d", "tickCount": 100, "labelOverlap": false, "tickSize": -8, "labelPadding": 18, "labelFontSize": 16, "titleFontSize": 19, "titleX": -48, "titleY": 186, "titleAngle": -90, "titleAlign": "center", "titleBaseline": "middle"}},
  "y2": {"field": "y2"}}},
{"data": {"values": [{"x": -0.15, "x2": 13.9, "y": 4.38, "y2": 3.5}]},
 "mark": {"type": "rect", "fill": null, "fillOpacity": 0, "stroke": "#000", "strokeWidth": 1.5},
 "encoding": {"x": {"field": "x", "type": "quantitative"}, "x2": {"field": "x2"}, "y": {"field": "y", "type": "quantitative"}, "y2": {"field": "y2"}}},
{"data": {"values": [{"x": -0.15, "x2": 13.9, "y": 3.4}]},
 "mark": {"type": "rule", "color": "#000", "strokeWidth": 1, "strokeDash": [1.5, 1.5]},
 "encoding": {"x": {"field": "x", "type": "quantitative"}, "x2": {"field": "x2"}, "y": {"field": "y", "type": "quantitative"}}},
{"data": {"values": [{"x": 6, "y": 3.27}]},
 "mark": {"type": "point", "shape": "triangle-up", "filled": true, "color": "#000", "size": 35, "opacity": 1},
 "encoding": {"x": {"field": "x", "type": "quantitative"}, "y": {"field": "y", "type": "quantitative"}}},
{"data": {"values": [{"x": 7.36, "x2": 8.47, "y": 4.18}]},
 "mark": {"type": "rule", "color": "#3050a3", "strokeWidth": 1.5},
 "encoding": {"x": {"field": "x", "type": "quantitative"}, "x2": {"field": "x2"}, "y": {"field": "y", "type": "quantitative"}}},
{"data": {"values": [{"x": 7.36, "x2": 8.47, "y": 3.42}]},
 "mark": {"type": "rule", "color": "#3050a3", "strokeWidth": 2.5, "strokeDash": [2, 1]},
 "encoding": {"x": {"field": "x", "type": "quantitative"}, "x2": {"field": "x2"}, "y": {"field": "y", "type": "quantitative"}}},
{"data": {"name": "ser2"}, "transform": [{"filter": "datum.s == 'bt' && datum.n == 8"}],
 "mark": {"type": "tick", "orient": "horizontal", "size": 32, "thickness": 1.5, "color": "#3050a3", "opacity": 1},
 "encoding": {"x": {"field": "n", "type": "quantitative"}, "y": {"field": "e", "type": "quantitative"}}},
{"data": {"name": "ser2"},
 "mark": {"type": "line", "strokeWidth": 1.5},
 "encoding": {"x": {"field": "n", "type": "quantitative"}, "y": {"field": "e", "type": "quantitative"},
  "color": {"field": "s", "type": "nominal", "scale": {"domain": ["rt", "bt"], "range": ["#ec1c24", "#3050a3"]}, "legend": null}}},
{"data": {"name": "ser2"},
 "mark": {"type": "point", "filled": true, "size": 70, "opacity": 1},
 "encoding": {"x": {"field": "n", "type": "quantitative"}, "y": {"field": "e", "type": "quantitative"},
  "color": {"field": "s", "type": "nominal", "legend": null},
  "shape": {"field": "s", "type": "nominal", "scale": {"domain": ["rt", "bt"], "range": ["triangle-up", "triangle-down"]}, "legend": null}}},
{"data": {"values": [{"x": 8.6, "y": 3.99, "t": "⁵D₃"}, {"x": 8.6, "y": 3.3, "t": "⁵D₄"}]},
 "mark": {"type": "text", "fontSize": 17, "color": "#000", "align": "left", "baseline": "middle"},
 "encoding": {"x": {"field": "x", "type": "quantitative"}, "y": {"field": "y", "type": "quantitative"}, "text": {"field": "t"}}},
{"data": {"values": [{"x": 13.98, "y": 3.1, "t": "Eᵉˣ"}]},
 "mark": {"type": "text", "fontSize": 17, "color": "#000", "align": "left", "baseline": "middle"},
 "encoding": {"x": {"field": "x", "type": "quantitative"}, "y": {"field": "y", "type": "quantitative"}, "text": {"field": "t"}}},
{"data": {"values": [{"x": 15.07, "y": -5.82, "t": "b)"}]},
 "mark": {"type": "text", "fontSize": 22, "color": "#000", "align": "center", "baseline": "middle"},
 "encoding": {"x": {"field": "x", "type": "quantitative"}, "y": {"field": "y", "type": "quantitative"}, "text": {"field": "t"}}}
]},
{"data": {"values": [{"x": 6, "y": 0, "y2": 3.3}]},
 "mark": {"type": "rule", "color": "#000", "strokeWidth": 1.3, "strokeDash": [1.5, 2]},
 "encoding": {"x": {"field": "x", "type": "quantitative"},
  "y": {"field": "y", "type": "quantitative", "scale": {"domain": [-4, 10.1], "nice": false, "zero": false},
   "axis": {"orient": "left", "title": null, "labels": false, "domain": false, "ticks": true, "tickCount": 100, "values": [-3.8,-3.6,-3.4,-3.2,-2.8,-2.6,-2.4,-2.2,-1.8,-1.6,-1.4,-1.2,-0.8,-0.6,-0.4,-0.2,0.2,0.4,0.6,0.8,1.2,1.4,1.6,1.8,2.2,2.4,2.6,2.8,3.2,3.4,3.6,3.8,4.2,4.4,4.6,4.8,5.2,5.4,5.6,5.8,6.2,6.4,6.6,6.8,7.2,7.4,7.6,7.8,8.2,8.4,8.6,8.8,9.2,9.4,9.6,9.8], "tickSize": -4, "tickWidth": 1.2}},
  "y2": {"field": "y2"}}}
]
}
]
}
